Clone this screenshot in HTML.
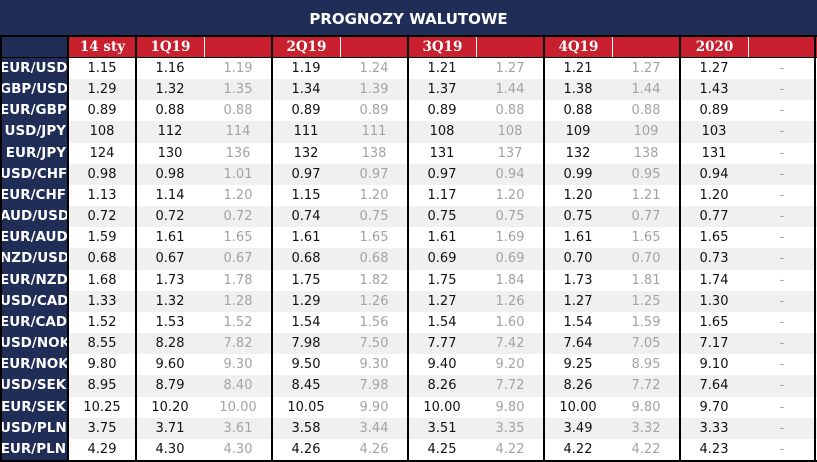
<!DOCTYPE html>
<html><head><meta charset="utf-8"><style>
body{margin:0;width:817px;height:462px;overflow:hidden;background:#fff;font-family:"DejaVu Sans","Liberation Sans",sans-serif;position:relative}
div{position:absolute;box-sizing:border-box}
.title{left:0;top:0;width:817px;height:36px;background:#1f2d57;color:#fff;font-weight:bold;font-size:15px;text-align:center;line-height:38px}
.lab{left:0;top:36px;width:68px;height:426px;background:#1f2d57}
.hc{top:37px;height:20px;background:#c8202f;color:#fff;font-weight:bold;font-size:13.5px;text-align:center;line-height:21px;font-family:"DejaVu Serif","Liberation Serif",serif;border-right:1px solid #fff}
.rl{left:0;width:68px;color:#fff;font-weight:bold;font-size:13.5px;text-align:right;padding-right:2px;letter-spacing:0px;white-space:nowrap}
.c{font-size:13px;text-align:center;color:#111}
.g{color:#a3a3a3}
.row{left:68px;width:749px}
.vl{top:36px;width:2px;height:426px;background:#000}
</style></head><body>
<div class="title">PROGNOZY WALUTOWE</div>
<div class="lab"></div>
<script>
const headers=["14 sty","1Q19","","2Q19","","3Q19","","4Q19","","2020",""];
const pairs=["EUR/USD","GBP/USD","EUR/GBP","USD/JPY","EUR/JPY","USD/CHF","EUR/CHF","AUD/USD","EUR/AUD","NZD/USD","EUR/NZD","USD/CAD","EUR/CAD","USD/NOK","EUR/NOK","USD/SEK","EUR/SEK","USD/PLN","EUR/PLN"];
const values=[
["1.15","1.16","1.19","1.19","1.24","1.21","1.27","1.21","1.27","1.27","-"],
["1.29","1.32","1.35","1.34","1.39","1.37","1.44","1.38","1.44","1.43","-"],
["0.89","0.88","0.88","0.89","0.89","0.89","0.88","0.88","0.88","0.89","-"],
["108","112","114","111","111","108","108","109","109","103","-"],
["124","130","136","132","138","131","137","132","138","131","-"],
["0.98","0.98","1.01","0.97","0.97","0.97","0.94","0.99","0.95","0.94","-"],
["1.13","1.14","1.20","1.15","1.20","1.17","1.20","1.20","1.21","1.20","-"],
["0.72","0.72","0.72","0.74","0.75","0.75","0.75","0.75","0.77","0.77","-"],
["1.59","1.61","1.65","1.61","1.65","1.61","1.69","1.61","1.65","1.65","-"],
["0.68","0.67","0.67","0.68","0.68","0.69","0.69","0.70","0.70","0.73","-"],
["1.68","1.73","1.78","1.75","1.82","1.75","1.84","1.73","1.81","1.74","-"],
["1.33","1.32","1.28","1.29","1.26","1.27","1.26","1.27","1.25","1.30","-"],
["1.52","1.53","1.52","1.54","1.56","1.54","1.60","1.54","1.59","1.65","-"],
["8.55","8.28","7.82","7.98","7.50","7.77","7.42","7.64","7.05","7.17","-"],
["9.80","9.60","9.30","9.50","9.30","9.40","9.20","9.25","8.95","9.10","-"],
["8.95","8.79","8.40","8.45","7.98","8.26","7.72","8.26","7.72","7.64","-"],
["10.25","10.20","10.00","10.05","9.90","10.00","9.80","10.00","9.80","9.70","-"],
["3.75","3.71","3.61","3.58","3.44","3.51","3.35","3.49","3.32","3.33","-"],
["4.29","4.30","4.30","4.26","4.26","4.25","4.22","4.22","4.22","4.23","-"]];
const X0=68,CW=68,RY=58,RH=21.16;
const b=document.body;
headers.forEach((h,i)=>{const d=document.createElement('div');


d.className='hc';d.style.left=(X0+i*CW+1)+'px';d.style.width=(i==10?CW+1:CW)+'px';d.textContent=h;b.appendChild(d);});
pairs.forEach((p,r)=>{const y=RY+r*RH;
const row=document.createElement('div');


row.className='row';row.style.top=y+'px';row.style.height=RH+'px';row.style.background=r%2?'#f0f0f0':'#fff';b.appendChild(row);
const l=document.createElement('div');


l.className='rl';l.style.top=y+'px';l.style.height=RH+'px';l.style.lineHeight=RH+'px';l.textContent=p;b.appendChild(l);
values[r].forEach((v,i)=>{const c=document.createElement('div');


c.className='c'+(i%2==0&&i>0?' g':'');c.style.left=(X0+i*CW)+'px';c.style.width=CW+'px';c.style.top=y+'px';c.style.height=RH+'px';c.style.lineHeight=(RH+1)+'px';c.textContent=v;b.appendChild(c);});});
[0,68,136,272,408,544,680,815].forEach(x=>{const d=document.createElement('div');


d.className='vl';d.style.left=(x==0?0:x-1)+'px';b.appendChild(d);});
[[35,2],[57,1],[460,2]].forEach(a=>{const d=document.createElement('div');


d.style.left='0';d.style.width='817px';d.style.top=a[0]+'px';d.style.height=a[1]+'px';d.style.background='#000';b.appendChild(d);});
</script>
</body></html>
